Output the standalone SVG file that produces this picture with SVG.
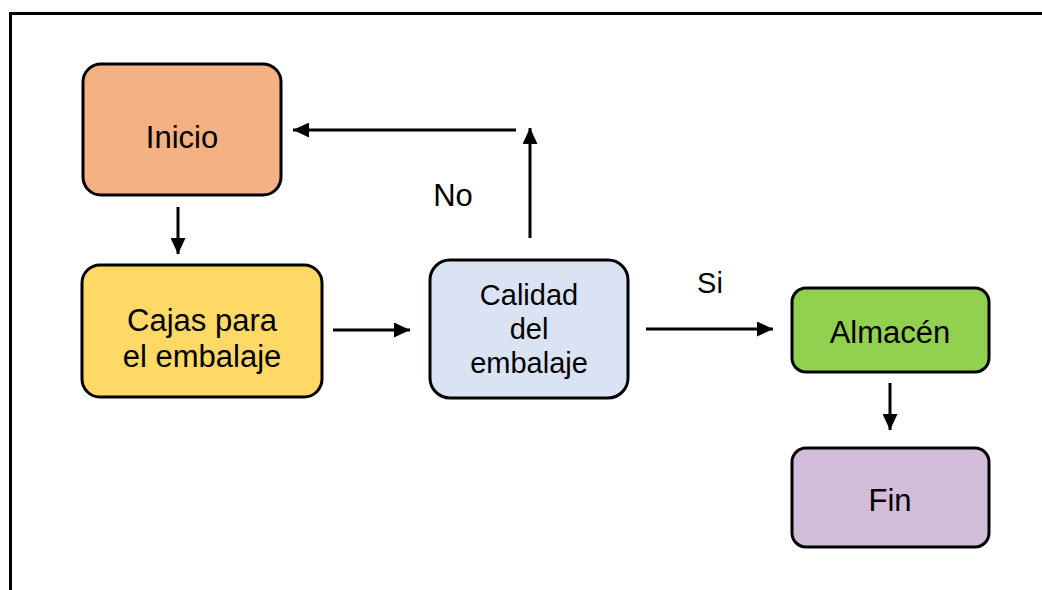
<svg xmlns="http://www.w3.org/2000/svg" width="1042" height="590" viewBox="0 0 1042 590">
  <style>
    .box { stroke: #000; stroke-width: 3; }
    .lbl { font-family: "Liberation Sans", Arial, sans-serif; font-size: 31px; fill: #000; text-anchor: middle; }
    .sm { font-size: 29px; }
    .edge { stroke: #000; stroke-width: 3; fill: none; marker-end: url(#head); }
  </style>
  <defs>
    <marker id="head" markerUnits="userSpaceOnUse" markerWidth="16" markerHeight="15" refX="16" refY="7.5" orient="auto">
      <path d="M0,0 L16,7.5 L0,15 z" fill="#000"/>
    </marker>
  </defs>

  <rect width="1042" height="590" fill="#fff"/>
  <!-- outer frame -->
  <path d="M10.5,600 L10.5,13.5 L1050,13.5" fill="none" stroke="#000" stroke-width="3"/>

  <g id="inicio">
    <rect class="box" x="83" y="64" width="198" height="131" rx="18" fill="#F4B183"/>
    <text class="lbl" x="182" y="148">Inicio</text>
  </g>

  <g id="cajas">
    <rect class="box" x="82" y="265" width="240" height="132" rx="18" fill="#FFD966"/>
    <text class="lbl" x="202" y="331">Cajas para</text>
    <text class="lbl" x="202" y="367">el embalaje</text>
  </g>

  <g id="calidad">
    <rect class="box" x="430" y="260" width="198" height="138" rx="20" fill="#DAE3F3"/>
    <text class="lbl sm" x="529" y="305">Calidad</text>
    <text class="lbl sm" x="529" y="339">del</text>
    <text class="lbl sm" x="529" y="373">embalaje</text>
  </g>

  <g id="almacen">
    <rect class="box" x="792" y="288" width="197" height="84" rx="14" fill="#92D050"/>
    <text class="lbl" x="890" y="343">Almacén</text>
  </g>

  <g id="fin">
    <rect class="box" x="792" y="448" width="197" height="99" rx="14" fill="#D2BCD9"/>
    <text class="lbl" x="890" y="511">Fin</text>
  </g>

  <g id="connectors">
    <line class="edge" x1="178" y1="207" x2="178" y2="254"/>
    <line class="edge" x1="333" y1="330" x2="410" y2="330"/>
    <line class="edge" x1="530" y1="238" x2="530" y2="128"/>
    <line class="edge" x1="516" y1="130" x2="293" y2="130"/>
    <line class="edge" x1="646" y1="329" x2="773" y2="329"/>
    <line class="edge" x1="890" y1="383" x2="890" y2="430"/>
    <text class="lbl" x="453" y="206">No</text>
    <text class="lbl sm" x="710" y="293">Si</text>
  </g>
</svg>
